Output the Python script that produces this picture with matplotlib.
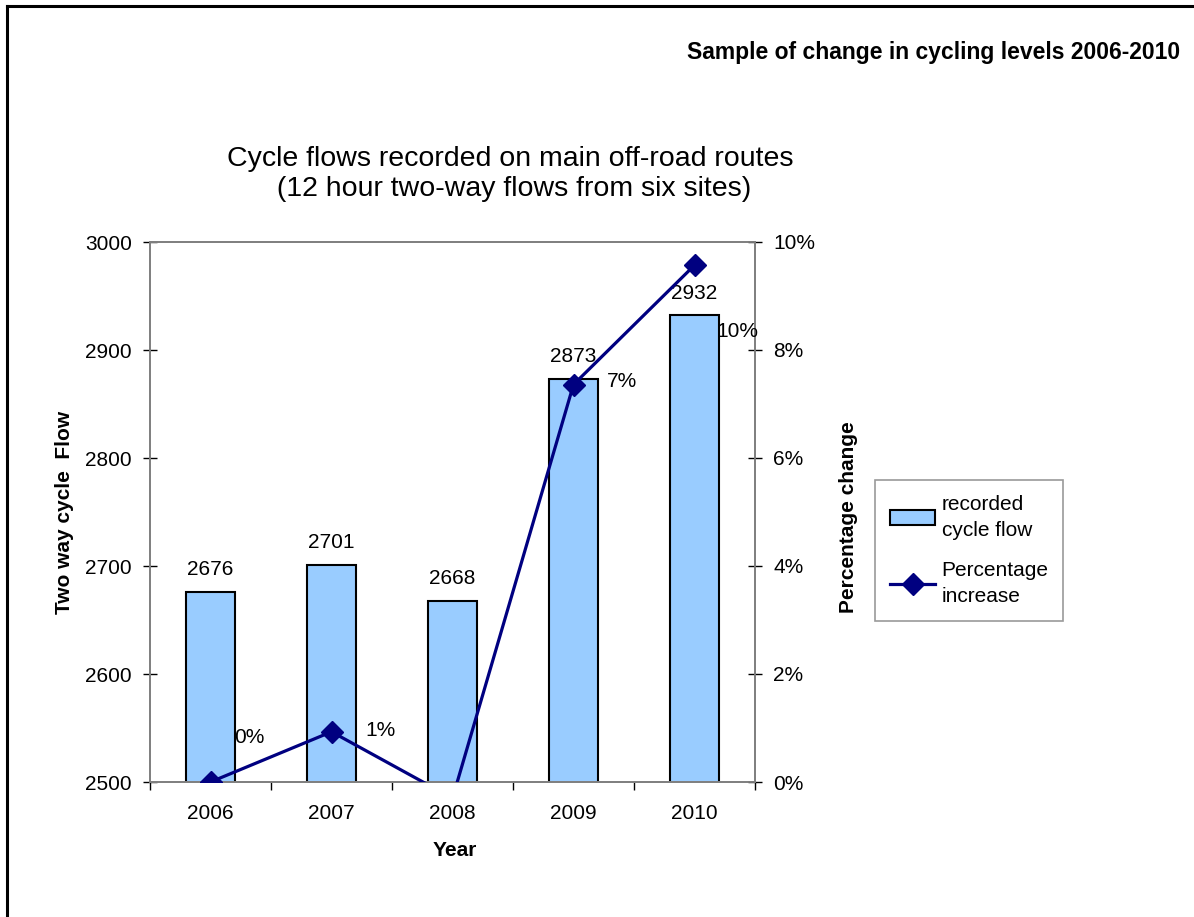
import matplotlib
matplotlib.use('Agg')
import matplotlib.pyplot as plt
from matplotlib.lines import Line2D
from matplotlib.patches import Patch

years = ["2006", "2007", "2008", "2009", "2010"]
cycle_flow = [2676, 2701, 2668, 2873, 2932]
pct_change = [0.0, 0.93, -0.30, 7.36, 9.57]
pct_labels = ["0%", "1%", "0%", "7%", "10%"]
left_ticks = [2500, 2600, 2700, 2800, 2900, 3000]
right_ticks = [0, 2, 4, 6, 8, 10]

# label offsets (points) for the percentage labels, as placed in the original
pct_offsets = [(28, 32), (35, 1), (32, 29), (35, 2), (31, -48)]

plt.rcParams['font.family'] = ['Liberation Sans', 'DejaVu Sans']

BAR = '#99CCFF'
NAVY = '#000080'
GRAY = '#808080'

fig = plt.figure(figsize=(11.94, 9.17), dpi=100)
ax = fig.add_axes([150 / 1194, 1 - 782 / 917, 605 / 1194, 540 / 917])
ax2 = ax.twinx()

x = list(range(len(years)))
ax.bar(x, cycle_flow, width=0.41, color=BAR, edgecolor='black', linewidth=1.5, zorder=2)
for xi, v in zip(x, cycle_flow):
    ax.annotate(str(v), (xi, v), xytext=(0, 12), textcoords='offset points',
                ha='center', va='baseline', fontsize=15)

ax.set_xlim(-0.5, len(years) - 0.5)
ax.set_ylim(2500, 3000)
ax.set_yticks(left_ticks)
ax.set_xticks(x)
ax.set_xticklabels(years)
ax.set_xticks([i + 0.5 for i in range(-1, len(years))], minor=True)
ax.tick_params(axis='x', which='major', length=0, pad=16, labelsize=15)
ax.tick_params(axis='x', which='minor', length=6, width=1, direction='out', color='black')
ax.tick_params(axis='y', length=10, width=1, direction='inout', color='black', pad=8, labelsize=15)

ax2.plot(x, pct_change, color=NAVY, lw=2.3, marker='D', markersize=11, zorder=3)
for xi, v, lab, off in zip(x, pct_change, pct_labels, pct_offsets):
    ax2.annotate(lab, (xi, v), xytext=off, textcoords='offset points',
                 ha='center', va='center', fontsize=15)
ax2.set_ylim(0, 10)
ax2.set_yticks(right_ticks)
ax2.set_yticklabels([f"{t}%" for t in right_ticks])
ax2.tick_params(axis='y', length=10, width=1, direction='inout', color='black', pad=8, labelsize=15)

for a in (ax, ax2):
    for s in a.spines.values():
        s.set_color(GRAY)
        s.set_linewidth(1.3)

fig.text(1180 / 1194, 1 - 53 / 917, "Sample of change in cycling levels 2006-2010",
         ha='right', va='center', fontsize=16.5, fontweight='bold')
fig.text(510 / 1194, 1 - 174 / 917,
         "Cycle flows recorded on main off-road routes\n (12 hour two-way flows from six sites)",
         ha='center', va='center', fontsize=20.5, linespacing=1.22, multialignment='center')
fig.text(65 / 1194, 1 - 512 / 917, "Two way cycle  Flow", rotation=90,
         ha='center', va='center', fontsize=15, fontweight='bold')
fig.text(848 / 1194, 1 - 517 / 917, "Percentage change", rotation=90,
         ha='center', va='center', fontsize=15, fontweight='bold')
fig.text(455 / 1194, 1 - 851 / 917, "Year", ha='center', va='center',
         fontsize=15, fontweight='bold')

handles = [Patch(facecolor=BAR, edgecolor='black', linewidth=1.5),
           Line2D([], [], color=NAVY, lw=2.3, marker='D', markersize=11)]
leg = fig.legend(handles, ["recorded\ncycle flow", "Percentage\nincrease"],
                 loc='upper left', bbox_to_anchor=(875 / 1194, 1 - 480 / 917),
                 fontsize=15, frameon=True, fancybox=False, edgecolor=GRAY,
                 borderaxespad=0, handlelength=2.2, handletextpad=0.3,
                 labelspacing=1.0, borderpad=0.7)
leg.get_frame().set_linewidth(1.2)
for t in leg.get_texts():
    t.set_linespacing(1.5)

# page frame (left and top edges)
fig.add_artist(Line2D([7 / 1194, 7 / 1194], [0, 1 - 6 / 917], color='black', lw=2.2,
                      transform=fig.transFigure))
fig.add_artist(Line2D([7 / 1194, 1], [1 - 6 / 917, 1 - 6 / 917], color='black', lw=2.2,
                      transform=fig.transFigure))

fig.savefig("out.png", dpi=100)
